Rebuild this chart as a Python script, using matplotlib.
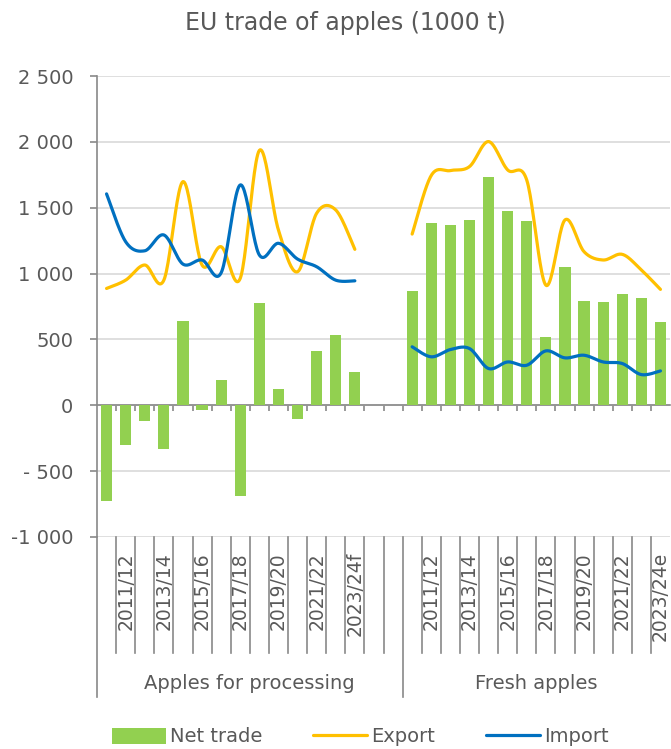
import numpy as np
import matplotlib
matplotlib.use('Agg')
import matplotlib.pyplot as plt
from matplotlib.transforms import blended_transform_factory
from matplotlib.patches import Patch
from matplotlib.lines import Line2D

plt.rcParams['font.family'] = ['DejaVu Sans']

# seasons 2010/11 .. 2023/24
seasons_proc = ['2010/11', '2011/12', '2012/13', '2013/14', '2014/15', '2015/16', '2016/17',
                '2017/18', '2018/19', '2019/20', '2020/21', '2021/22', '2022/23', '2023/24f']
seasons_fresh = seasons_proc[:-1] + ['2023/24e']
groups = ['Apples for processing', 'Fresh apples']

# values in 1000 t
net_proc = [-730, -300, -122, -335, 639, -38, 195, -692, 778, 127, -106, 411, 530, 253]
export_proc = [887, 950, 1065, 950, 1698, 1065, 1204, 964, 1935, 1330, 1014, 1458, 1483, 1184]
import_proc = [1605, 1242, 1173, 1293, 1072, 1103, 1006, 1673, 1141, 1230, 1110, 1052, 950, 945]

net_fresh = [869, 1386, 1371, 1409, 1734, 1478, 1397, 515, 1049, 791, 786, 842, 811, 634]
export_fresh = [1300, 1745, 1782, 1812, 2002, 1787, 1710, 912, 1407, 1166, 1103, 1146, 1027, 880]
import_fresh = [444, 368, 423, 431, 279, 329, 304, 413, 360, 380, 329, 317, 233, 261]

GREEN = '#92D050'
YELLOW = '#FFC000'
BLUE = '#0070C0'
GRID = '#D9D9D9'
AXIS = '#898989'
TEXT = '#595959'

W, H = 671, 749
fig = plt.figure(figsize=(W / 100, H / 100), dpi=100)
ax = fig.add_axes([97 / W, 1 - 537 / H, 573 / W, 461 / H])


def smooth(x, y, n=24):
    # Bezier smoothing through the points, as a spreadsheet "smoothed line"
    pts = np.column_stack([x, y]).astype(float)
    p = np.vstack([pts[0], pts, pts[-1]])
    t = np.linspace(0, 1, n)[:, None]
    out = []
    for i in range(1, len(p) - 2):
        p0, p1, p2, p3 = p[i - 1], p[i], p[i + 1], p[i + 2]
        c1 = p1 + (p2 - p0) / 6
        c2 = p2 - (p3 - p1) / 6
        seg = (1 - t) ** 3 * p1 + 3 * (1 - t) ** 2 * t * c1 + 3 * (1 - t) * t ** 2 * c2 + t ** 3 * p2
        out.append(seg if i == 1 else seg[1:])
    return np.vstack(out)


n = len(seasons_proc)
slots_per_group = n + 2
x_proc = np.arange(n)
x_fresh = np.arange(n) + slots_per_group
n_slots = slots_per_group + n

for xs, net, exp, imp in [(x_proc, net_proc, export_proc, import_proc),
                          (x_fresh, net_fresh, export_fresh, import_fresh)]:
    ax.bar(xs, net, width=0.59, color=GREEN, zorder=2)
    c = smooth(xs, exp)
    ax.plot(c[:, 0], c[:, 1], color=YELLOW, lw=2.3, solid_capstyle='round', zorder=3)
    c = smooth(xs, imp)
    ax.plot(c[:, 0], c[:, 1], color=BLUE, lw=2.3, solid_capstyle='round', zorder=3)

ax.set_xlim(-0.5, n_slots - 0.5)
ax.set_ylim(-1000, 2500)
ax.set_yticks(np.arange(-1000, 2501, 500))
ax.set_yticklabels(['-1 000', '- 500', '0', '500', '1 000', '1 500', '2 000', '2 500'])
ax.yaxis.grid(True, color=GRID, lw=1.2, zorder=0)
ax.set_axisbelow(True)

for s in ['top', 'right']:
    ax.spines[s].set_visible(False)
ax.spines['left'].set_color(AXIS)
ax.spines['left'].set_linewidth(1.2)
ax.spines['bottom'].set_position(('data', 0))
ax.spines['bottom'].set_color(AXIS)
ax.spines['bottom'].set_linewidth(1.2)
ax.spines['bottom'].set_zorder(1)

ax.set_xticks(np.arange(n_slots - 1) + 0.5)
ax.tick_params(axis='x', direction='out', length=4.5, width=1.2, color=AXIS, labelbottom=False)
ax.tick_params(axis='y', direction='out', length=5, width=1.2, color=AXIS,
               labelsize=14, labelcolor=TEXT, pad=12)

# multi-level category axis below the plot
tr = blended_transform_factory(ax.transData, ax.transAxes)
line_kw = dict(color=AXIS, lw=1.2, clip_on=False, transform=tr)
for b in np.arange(n_slots - 1) + 0.5:
    low = -0.347 if b == slots_per_group - 0.5 else -0.2516
    ax.plot([b, b], [0, low], **line_kw)
ax.plot([-0.5, -0.5], [0, -0.347], **line_kw)

for xs, labels in [(x_proc, seasons_proc), (x_fresh, seasons_fresh)]:
    for i in range(1, n, 2):
        ax.text(xs[i], -0.033, labels[i], transform=tr, rotation=90, rotation_mode='anchor',
                ha='right', va='center', fontsize=13.5, color=TEXT)

centers = [(x_proc[0] - 0.5 + slots_per_group - 0.5) / 2, (x_fresh[0] - 0.5 + n_slots - 0.5) / 2]
for cx, g in zip(centers, groups):
    ax.text(cx, -0.317, g, transform=tr, ha='center', va='center', fontsize=14, color=TEXT)

fig.text(345 / W, 1 - 23 / H, 'EU trade of apples (1000 t)', ha='center', va='center',
         fontsize=17, color=TEXT)

handles = [Patch(facecolor=GREEN, edgecolor='none'),
           Line2D([], [], color=YELLOW, lw=2.3, solid_capstyle='round'),
           Line2D([], [], color=BLUE, lw=2.3, solid_capstyle='round')]
fig.legend(handles, ['Net trade', 'Export', 'Import'], loc='center', ncol=3,
           bbox_to_anchor=(360 / W, 1 - 737 / H), frameon=False, fontsize=14,
           handlelength=2.8, handleheight=0.9, handletextpad=0.2, columnspacing=2.6,
           labelcolor=TEXT)

fig.savefig('out.png', dpi=100)
